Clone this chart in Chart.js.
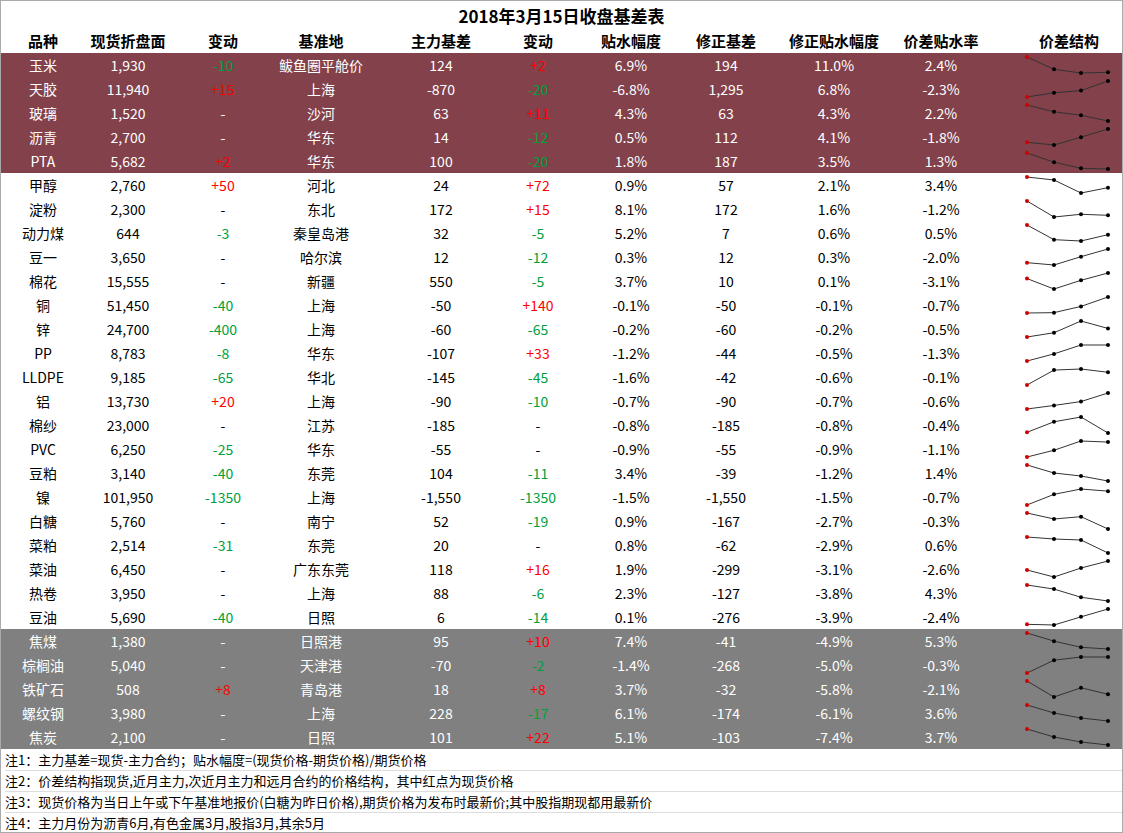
<!DOCTYPE html>
<html>
<head>
<meta charset="utf-8">
<script src="https://cdn.jsdelivr.net/npm/chart.js@4"></script>
<style>
  body { margin: 0; background: #fff; font-family: "Noto Sans CJK SC", sans-serif; }
  #page { position: relative; width: 1121px; height: 831px; border: 1px solid #aaa; overflow: hidden; }
  .row { position: absolute; left: 0; width: 1121px; height: 24px; }
  .cell { position: absolute; width: 140px; text-align: center; font-size: 14px; line-height: 24px; white-space: nowrap; }
  .hdr .cell { font-weight: bold; font-size: 15px; }
  .note { position: absolute; left: 4px; font-size: 13px; line-height: 21px; height: 21px; width: 1117px; border-bottom: 1px solid #ddd; }
  canvas.spark { position: absolute; left: 1019px; top: 0; width: 94px; height: 24px; }
</style>
</head>
<body>
<div id="page">
  <div style="position:absolute;left:0;top:2px;width:1121px;text-align:center;font-size:17px;font-weight:bold;">2018年3月15日收盘基差表</div>
</div>
<script>
const headers = ["品种", "现货折盘面", "变动", "基准地", "主力基差", "变动", "贴水幅度", "修正基差", "修正贴水幅度", "价差贴水率", "价差结构"];
const names = ["玉米","天胶","玻璃","沥青","PTA","甲醇","淀粉","动力煤","豆一","棉花","铜","锌","PP","LLDPE","铝","棉纱","PVC","豆粕","镍","白糖","菜粕","菜油","热卷","豆油","焦煤","棕榈油","铁矿石","螺纹钢","焦炭"];
const spot = ["1,930","11,940","1,520","2,700","5,682","2,760","2,300","644","3,650","15,555","51,450","24,700","8,783","9,185","13,730","23,000","6,250","3,140","101,950","5,760","2,514","6,450","3,950","5,690","1,380","5,040","508","3,980","2,100"];
const spotChg = ["-10","+15","-","-","+2","+50","-","-3","-","-","-40","-400","-8","-65","+20","-","-25","-40","-1350","-","-31","-","-","-40","-","-","+8","-","-"];
const base = ["鲅鱼圈平舱价","上海","沙河","华东","华东","河北","东北","秦皇岛港","哈尔滨","新疆","上海","上海","华东","华北","上海","江苏","华东","东莞","上海","南宁","东莞","广东东莞","上海","日照","日照港","天津港","青岛港","上海","日照"];
const mainBasis = ["124","-870","63","14","100","24","172","32","12","550","-50","-60","-107","-145","-90","-185","-55","104","-1,550","52","20","118","88","6","95","-70","18","228","101"];
const basisChg = ["+2","-20","+11","-12","-20","+72","+15","-5","-12","-5","+140","-65","+33","-45","-10","-","-","-11","-1350","-19","-","+16","-6","-14","+10","-2","+8","-17","+22"];
const discount = ["6.9%","-6.8%","4.3%","0.5%","1.8%","0.9%","8.1%","5.2%","0.3%","3.7%","-0.1%","-0.2%","-1.2%","-1.6%","-0.7%","-0.8%","-0.9%","3.4%","-1.5%","0.9%","0.8%","1.9%","2.3%","0.1%","7.4%","-1.4%","3.7%","6.1%","5.1%"];
const adjBasis = ["194","1,295","63","112","187","57","172","7","12","10","-50","-60","-44","-42","-90","-185","-55","-39","-1,550","-167","-62","-299","-127","-276","-41","-268","-32","-174","-103"];
const adjDiscount = ["11.0%","6.8%","4.3%","4.1%","3.5%","2.1%","1.6%","0.6%","0.3%","0.1%","-0.1%","-0.2%","-0.5%","-0.6%","-0.7%","-0.8%","-0.9%","-1.2%","-1.5%","-2.7%","-2.9%","-3.1%","-3.8%","-3.9%","-4.9%","-5.0%","-5.8%","-6.1%","-7.4%"];
const spreadRate = ["2.4%","-2.3%","2.2%","-1.8%","1.3%","3.4%","-1.2%","0.5%","-2.0%","-3.1%","-0.7%","-0.5%","-1.3%","-0.1%","-0.6%","-0.4%","-1.1%","1.4%","-0.7%","-0.3%","0.6%","-2.6%","4.3%","-2.4%","5.3%","-0.3%","-2.1%","3.6%","3.7%"];
// price structure: spot, near main, next main, far (relative levels)
const structure = [
  [80,43,32,34],[15,27,33,60],[60,40,30,13],[21,13,36,60],[60,33,15,13],
  [60,51,12,28],[60,13,21,18],[60,16,12,31],[19,12,37,60],[44,14,39,60],
  [14,15,33,60],[15,27,60,39],[15,35,60,60],[15,56,59,50],[15,25,36,60],
  [15,46,60,13],[15,34,60,57],[60,36,27,12],[15,45,60,54],[60,42,49,12],
  [60,54,51,12],[33,12,39,60],[60,48,24,13],[15,13,37,60],[60,36,18,13],
  [15,51,60,60],[60,13,40,21],[60,36,21,12],[60,36,21,12]
];

const centers = [42, 127, 222, 320, 440, 537, 630, 725, 833, 940, 1068];
const page = document.getElementById("page");

function addCell(row, x, text, color) {
  const c = document.createElement("div");
  c.className = "cell";
  c.style.left = (x - 70) + "px";
  c.textContent = text;
  if (color) c.style.color = color;
  row.appendChild(c);
}
function chgColor(v) {
  if (v.startsWith("+")) return "#ff0000";
  if (v.startsWith("-") && v.length > 1) return "#00a03c";
  return null;
}

const hdr = document.createElement("div");
hdr.className = "row hdr";
hdr.style.top = "28px";
headers.forEach((h, i) => addCell(hdr, centers[i], h));
page.appendChild(hdr);

names.forEach((n, i) => {
  const row = document.createElement("div");
  row.className = "row";
  row.style.top = (52 + i * 24) + "px";
  let fg = "#000";
  if (i < 5) { row.style.background = "#82414b"; fg = "#fff"; }
  else if (i >= 24) { row.style.background = "#808080"; fg = "#fff"; }
  row.style.color = fg;
  addCell(row, centers[0], n);
  addCell(row, centers[1], spot[i]);
  addCell(row, centers[2], spotChg[i], chgColor(spotChg[i]));
  addCell(row, centers[3], base[i]);
  addCell(row, centers[4], mainBasis[i]);
  addCell(row, centers[5], basisChg[i], chgColor(basisChg[i]));
  addCell(row, centers[6], discount[i]);
  addCell(row, centers[7], adjBasis[i]);
  addCell(row, centers[8], adjDiscount[i]);
  addCell(row, centers[9], spreadRate[i]);
  const cv = document.createElement("canvas");
  cv.className = "spark";
  cv.width = 94; cv.height = 24;
  row.appendChild(cv);
  page.appendChild(row);

  const vals = structure[i];
  new Chart(cv, {
    type: "line",
    data: {
      labels: ["现货", "近月主力", "次近月主力", "远月"],
      datasets: [{
        data: vals,
        borderColor: "#333",
        borderWidth: 1,
        pointRadius: 2,
        pointBackgroundColor: ["#d00000", "#000", "#000", "#000"],
        pointBorderColor: ["#d00000", "#000", "#000", "#000"],
        pointBorderWidth: 0
      }]
    },
    options: {
      responsive: false,
      animation: false,
      clip: false,
      layout: { padding: { left: 7, right: 6, top: 4, bottom: 4 } },
      plugins: { legend: { display: false }, tooltip: { enabled: false } },
      scales: {
        x: { display: false },
        y: { display: false, min: Math.min(...vals), max: Math.max(...vals) }
      }
    }
  });
});

const notes = [
  "注1：主力基差=现货-主力合约；贴水幅度=(现货价格-期货价格)/期货价格",
  "注2：价差结构指现货,近月主力,次近月主力和远月合约的价格结构，其中红点为现货价格",
  "注3：现货价格为当日上午或下午基准地报价(白糖为昨日价格),期货价格为发布时最新价;其中股指期现都用最新价",
  "注4：主力月份为沥青6月,有色金属3月,股指3月,其余5月"
];
notes.forEach((t, i) => {
  const d = document.createElement("div");
  d.className = "note";
  d.style.top = (748 + i * 21) + "px";
  d.textContent = t;
  page.appendChild(d);
});
</script>
</body>
</html>
